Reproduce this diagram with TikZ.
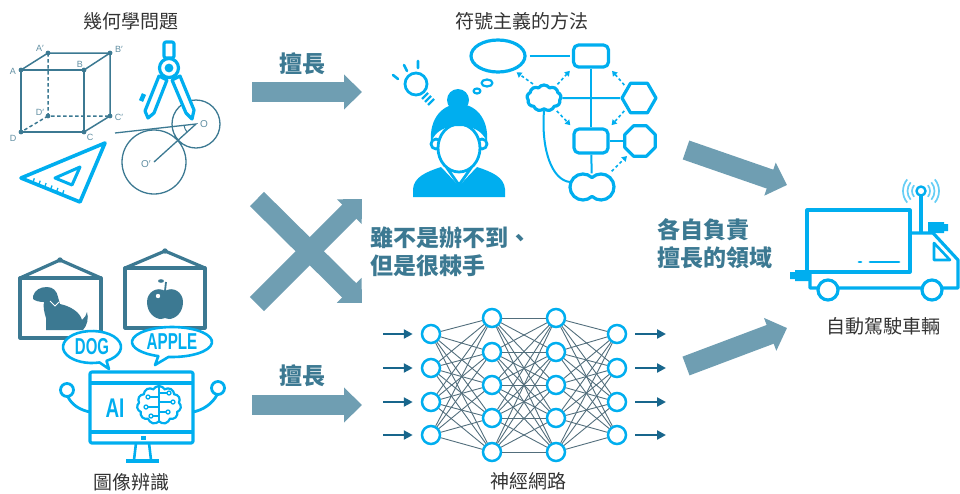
\documentclass[tikz,border=0pt]{standalone}
\usepackage{graphicx}
\usepackage{fontspec}
\setmainfont{Liberation Sans}
\newfontfamily\cjk{Noto Sans CJK TC}
\usetikzlibrary{arrows.meta, positioning, shapes.geometric, shapes.symbols, calc}
\definecolor{iconblue}{RGB}{0,174,239}
\definecolor{slatemain}{RGB}{60,121,146}
\definecolor{slatelight}{RGB}{96,142,162}
\definecolor{arrowslate}{RGB}{111,158,178}
\definecolor{wiregrey}{RGB}{82,110,124}
\definecolor{feedblue}{RGB}{24,102,140}
\definecolor{inkgrey}{RGB}{51,51,51}

\begin{document}
\begin{tikzpicture}[
    x=1pt, y=-1pt,
    heading/.style={font=\cjk\fontsize{19}{19}\selectfont, text=inkgrey, inner sep=0pt},
    note/.style={font=\cjk\bfseries\fontsize{23}{28}\selectfont, text=slatemain, align=left, inner sep=0pt},
    bigarrow/.style={line width=20pt, draw=arrowslate, -{Triangle[length=18pt,width=34pt]}},
    icon/.style={draw=iconblue, line width=3.2pt, line join=round},
    frame/.style={draw=slatemain, line width=3.2pt, line join=round},
    cubeline/.style={draw=slatemain, line width=1.5pt},
    vlabel/.style={font=\fontsize{9}{9}\selectfont, text=slatelight, inner sep=0pt},
    neuron/.style={circle, draw=iconblue, line width=2.5pt, fill=white, minimum size=18pt, inner sep=0pt},
    wire/.style={draw=wiregrey, line width=0.9pt},
    feed/.style={draw=feedblue, line width=2.3pt, -{Triangle[length=9pt,width=9pt]}},
    link/.style={draw=iconblue, line width=2pt},
    hint/.style={draw=iconblue, line width=1.6pt, dash pattern=on 3pt off 2.5pt,
      -{Triangle[length=5pt,width=6pt]}, shorten <=3pt, shorten >=3pt},
    badge/.style={font=\bfseries\fontsize{23}{23}\selectfont, text=iconblue, inner sep=0pt}
]
\useasboundingbox (0,0) rectangle (960,493);

% headings
\node[heading] (geotitle) at (131,21) {幾何學問題};
\node[heading] (symtitle) at (522,21) {符號主義的方法};
\node[heading] (imgtitle) at (131,482) {圖像辨識};
\node[heading] (nettitle) at (528,481) {神經網路};
\node[heading] (cartitle) at (883,326) {自動駕駛車輛};

% flows between the panels
\coordinate (geo-out) at (252,92);
\coordinate (sym-in) at (362,92);
\coordinate (img-out) at (252,405);
\coordinate (net-in) at (362,405);
\coordinate (geo-cross) at (257,199);
\coordinate (net-cross) at (362,303);
\coordinate (img-cross) at (257,304);
\coordinate (sym-cross) at (362,199);
\coordinate (sym-out) at (686,150);
\coordinate (car-top) at (787,185);
\coordinate (net-out) at (686,366);
\coordinate (car-bot) at (787,328);
\draw[bigarrow] (geo-out) -- (sym-in);
\draw[bigarrow] (img-out) -- (net-in);
\draw[bigarrow] (geo-cross) -- (net-cross);
\draw[bigarrow] (img-cross) -- (sym-cross);
\draw[bigarrow] (sym-out) -- (car-top);
\draw[bigarrow] (net-out) -- (car-bot);
\node[note] (goodtop) at (302,64) {擅長};
\node[note] (goodbot) at (302,376) {擅長};
\node[note, anchor=west] (hard) at (370,252) {雖不是辦不到、\\但是很棘手};
\node[note, anchor=west] (roles) at (657,244) {各自負責\\擅長的領域};

% cube
\coordinate (cA) at (21,70);
\coordinate (cB) at (84,70);
\coordinate (cC) at (84,132);
\coordinate (cD) at (21,132);
\coordinate (cAp) at (48,53);
\coordinate (cBp) at (110,53);
\coordinate (cCp) at (110,116);
\coordinate (cDp) at (48,116);
\draw[cubeline] (cA) -- (cB) -- (cC) -- (cD) -- cycle;
\draw[cubeline] (cA) -- (cAp) -- (cBp) -- (cB) (cBp) -- (cCp) -- (cC);
\draw[cubeline, dash pattern=on 3.5pt off 2.5pt] (cAp) -- (cDp) -- (cCp) (cDp) -- (cD);
\foreach \v in {cA,cB,cC,cD,cAp,cBp,cCp,cDp}
  \fill[slatemain] (\v) circle (2.4pt);
\node[vlabel] (lA) at (13,71) {A};
\node[vlabel] (lB) at (80,64) {B};
\node[vlabel] (lC) at (90,137) {C};
\node[vlabel] (lD) at (13,138) {D};
\node[vlabel] (lAp) at (40,48) {A′};
\node[vlabel] (lBp) at (119,49) {B′};
\node[vlabel] (lCp) at (119,117) {C′};
\node[vlabel] (lDp) at (40,112) {D′};

% circles and compass
\coordinate (ptO) at (196,124);
\coordinate (ptOp) at (154,162);
\coordinate (ray) at (115,133);
\draw[cubeline, line width=1.3pt] (ptO) circle (24pt) (ptOp) circle (32pt);
\draw[cubeline, line width=1.3pt] (ray) -- (ptO) -- (ptOp);
\draw[cubeline, line width=1pt] (ptO) ++(186:12pt) arc[start angle=186, end angle=222, radius=12pt];
\node[vlabel, font=\fontsize{10}{10}\selectfont, anchor=west] (lO) at (200,124) {O};
\node[vlabel, font=\fontsize{10}{10}\selectfont, anchor=east] (lOp) at (151,164) {O′};
\draw[icon, fill=white] (159,76) -- (145,111) -- (148,118) -- (154,113) -- (167,80) -- cycle;
\draw[icon, fill=white] (172,80) -- (186,113) -- (192,119) -- (194,110) -- (180,76) -- cycle;
\draw[iconblue, line width=4.5pt] (144,94) -- (141,101);
\draw[icon, rounded corners=2pt] (164,42) rectangle (174,58);
\draw[icon, fill=white] (169,68) circle (9.5pt);
\fill[iconblue] (169,68) circle (4.4pt);

% set square
\draw[icon, line width=3.6pt] (21,178) -- (105,143) -- (80,202) -- cycle;
\draw[icon, line width=3pt] (55,178) -- (80,167) -- (72,185) -- cycle;
\foreach \t in {0.2,0.3,...,0.8}
  \draw[iconblue, line width=1.3pt] ($(21,178)!\t!(80,202)$) -- ++(1.5,-4.5);

% thinker with bulb
\draw[icon, line width=2.8pt] (416,84) circle (11pt);
\draw[iconblue, line width=2.2pt] (422,99) -- (428,93) (425,102) -- (431,96) (428,105) -- (434,99);
\draw[iconblue, line width=2.6pt, line cap=round] (393,75) -- (398,79) (404,65) -- (407,71) (418,61) -- (418,68);
\fill[iconblue] (413,197) -- (413,189) .. controls (414,177) and (426,172) .. (441,167) -- (459,186)
  -- (477,167) .. controls (492,172) and (504,177) .. (505,189) -- (505,197) -- cycle;
\draw[icon, fill=white, line width=2.8pt] (447,160) -- (447,168) -- (459,185) -- (471,168) -- (471,160);
\draw[icon, fill=white, line width=2.8pt] (436,144) circle (5pt) (482,144) circle (5pt);
\draw[icon, fill=white, line width=2.8pt] (459,148) ellipse (21pt and 24pt);
\fill[iconblue] (431,142) .. controls (429,118) and (443,104) .. (459,104) .. controls (475,104) and (489,118) .. (487,142)
  .. controls (482,130) and (472,126) .. (459,126) .. controls (446,126) and (436,130) .. (431,142) -- cycle;
\fill[iconblue] (458,100) circle (11pt);
\draw[icon, line width=2.2pt] (477,91) ellipse (3.5pt and 2.5pt) (487,83) ellipse (5.5pt and 3.5pt);

% symbol graph
\node[ellipse, icon, minimum width=54pt, minimum height=32pt, inner sep=0pt] (oval) at (498,56) {};
\node[icon, rounded corners=5pt, minimum width=35pt, minimum height=22pt, inner sep=0pt] (box1) at (591,56) {};
\node[cloud, icon, cloud puffs=9, cloud puff arc=110, aspect=1.3, minimum width=34pt, minimum height=26pt, inner sep=0pt] (idea) at (544,98) {};
\node[regular polygon, regular polygon sides=6, icon, minimum size=34pt, inner sep=0pt] (hexa) at (639,98) {};
\node[icon, rounded corners=5pt, minimum width=34pt, minimum height=24pt, inner sep=0pt] (box2) at (591,141) {};
\node[regular polygon, regular polygon sides=8, icon, minimum size=33pt, inner sep=0pt] (octa) at (640,141) {};
\node[inner sep=0pt, minimum width=44pt, minimum height=27pt] (pair) at (592,187) {};
\draw[icon, fill=white] (592,177.6) arc[start angle=46.2, end angle=313.8, radius=13pt]
  arc[start angle=226.2, end angle=493.8, radius=13pt] -- cycle;
\draw[link, shorten <=3pt, shorten >=2pt] (oval) -- (box1);
\draw[link] (box1) -- (box2);
\draw[link] (idea) -- (hexa);
\draw[link] (box2) -- (octa);
\draw[link] (box2) -- (pair);
\draw[link] (idea.south) .. controls (541,150) and (552,180) .. ([yshift=5pt]pair.west);
\draw[hint] (idea.125) -- (oval.-42);
\draw[hint] (idea.45) -- (box1.south west);
\draw[hint] (idea.-45) -- (box2.north west);
\draw[hint] (hexa.140) -- (box1.south east);
\draw[hint] (hexa.220) -- (box2.north east);
\draw[hint] (pair.38) -- (octa.230);

% truck
\draw[icon] (807,210) rectangle (910,272);
\draw[icon] (810,272) -- (810,288) -- (958,288) -- (958,260) -- (933,233) -- (910,233);
\draw[icon, line width=2.6pt] (934,243) -- (950,260) -- (934,260) -- cycle;
\draw[icon, fill=white] (828,290) circle (10pt) (932,290) circle (10pt);
\draw[iconblue, line width=2.8pt, line cap=round] (859,262) -- (861,262) (870,262) -- (899,262);
\draw[icon] (921,233) -- (921,196);
\draw[icon, line width=2.4pt] (921,191) circle (4.5pt);
\foreach \r in {9pt,13.5pt,18pt}
  \draw[iconblue!60, line width=1.7pt] (921,191) ++(-40:\r) arc[start angle=-40, end angle=40, radius=\r]
    (921,191) ++(140:\r) arc[start angle=140, end angle=220, radius=\r];
\fill[iconblue] (928,222) rectangle (944,233) (944,224) rectangle (948,231);
\fill[iconblue] (795,270) rectangle (810,281) (790,272) rectangle (795,279);

% framed pictures
\draw[frame] (20,278) rectangle (101,338);
\draw[frame] (20,278) -- (60,260) -- (101,278);
\fill[slatemain] (60,260) circle (2.7pt);
\draw[frame] (125,268) rectangle (205,328);
\draw[frame] (125,268) -- (165,251) -- (205,268);
\fill[slatemain] (165,251) circle (2.7pt);
\fill[slatemain] (33,296) .. controls (35,290) and (40,287) .. (47,287) .. controls (53,287) and (57,291) .. (58,297)
  -- (60,304) .. controls (70,306) and (80,312) .. (82,320) .. controls (85,318) and (86,315) .. (87,312)
  .. controls (89,318) and (87,326) .. (83,330) -- (46,330) -- (46,318)
  .. controls (44,312) and (43,306) .. (44,302) .. controls (40,302) and (35,301) .. (33,299) -- cycle;
\draw[white, line width=1pt] (50,301) -- (55,306) -- (59,302);
\fill[slatemain] (165,291) .. controls (173,286) and (183,292) .. (183,302) .. controls (183,313) and (175,319) .. (169,319)
  .. controls (167,319) and (166,318) .. (165,318) .. controls (164,318) and (163,319) .. (161,319)
  .. controls (155,319) and (147,313) .. (147,302) .. controls (147,292) and (157,286) .. (165,291) -- cycle;
\draw[slatemain, line width=1.8pt] (165,291) -- (166,282);
\fill[slatemain] (161,281) ellipse (3pt and 1.8pt);
\fill[white] (158,296) circle (2.2pt);

% speech bubbles
\draw[icon, fill=white, line width=2.6pt] (92,347) ++(-60:29pt and 16pt)
  arc[start angle=-60, end angle=285, x radius=29pt, y radius=16pt] -- (109,369) -- cycle;
\node[badge] (dogtag) at (92,347) {\scalebox{0.65}[1]{DOG}};
\draw[icon, fill=white, line width=2.6pt] (172,342) ++(-95:40pt and 15pt)
  arc[start angle=-95, end angle=250, x radius=40pt, y radius=15pt] -- (155,365) -- cycle;
\node[badge] (appletag) at (172,342) {\scalebox{0.66}[1]{APPLE}};

% monitor robot
\draw[icon, line width=2.8pt] (90,412) .. controls (80,410) and (72,405) .. (68,397);
\draw[icon, line width=2.8pt] (193,412) .. controls (203,410) and (212,404) .. (217,395);
\draw[icon, fill=white, line width=2.8pt] (67,390) circle (6.5pt) (218,388) circle (6.5pt);
\draw[icon, rounded corners=2pt] (90,372) rectangle (193,443);
\draw[icon] (90,383) -- (193,383) (90,432) -- (193,432);
\fill[iconblue] (141,436) rectangle (146,440);
\draw[icon, line width=2.6pt] (136,443) -- (134,460) (149,443) -- (151,460);
\draw[iconblue, line width=3.4pt] (126,461) -- (159,461);
\node[badge, font=\bfseries\fontsize{27}{27}\selectfont] (aitag) at (115,408) {\scalebox{0.7}[1]{AI}};
\node[cloud, cloud puffs=11, cloud puff arc=120, aspect=1.1, draw=iconblue, line width=2.2pt,
  minimum width=44pt, minimum height=38pt, inner sep=0pt] (brain) at (159,405) {};
\draw[iconblue, line width=1.8pt] (brain.north) -- (brain.south);
\foreach \y/\l in {393/8, 402/12, 412/7} {
  \draw[iconblue, line width=1.5pt] (159,\y) -- ++(\l,0);
  \draw[iconblue, line width=1.3pt, fill=white] (161+\l,\y) circle (2pt);
}
\foreach \y/\l in {397/9, 407/11, 416/6} {
  \draw[iconblue, line width=1.5pt] (159,\y) -- ++(-\l,0);
  \draw[iconblue, line width=1.3pt, fill=white] (157-\l,\y) circle (2pt);
}

% network
\foreach \y [count=\i] in {334,368,402,435} {
  \node[neuron] (a\i) at (431,\y) {};
  \node[neuron] (d\i) at (617,\y) {};
}
\foreach \y [count=\i] in {318,352,385,418,452} {
  \node[neuron] (b\i) at (492,\y) {};
  \node[neuron] (c\i) at (556,\y) {};
}
\foreach \i in {1,...,4}
  \foreach \j in {1,...,5} {
    \draw[wire] (a\i) -- (b\j);
    \draw[wire] (c\j) -- (d\i);
  }
\foreach \i in {1,...,5}
  \foreach \j in {1,...,5}
    \draw[wire] (b\i) -- (c\j);
\foreach \y [count=\i] in {334,368,402,435} {
  \coordinate (in\i) at (383,\y);
  \coordinate (out\i) at (666,\y);
  \draw[feed, shorten >=8pt] (in\i) -- (a\i);
  \draw[feed, shorten <=8pt] (d\i) -- (out\i);
}
\end{tikzpicture}
\end{document}
